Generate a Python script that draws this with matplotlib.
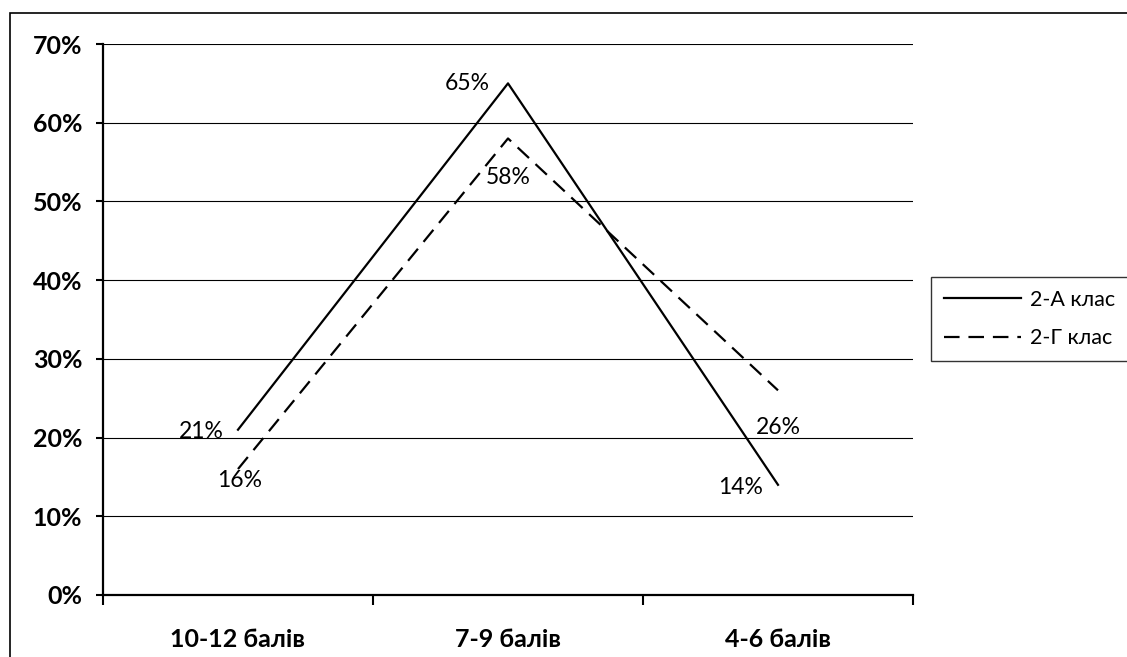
import matplotlib.pyplot as plt
from matplotlib.patches import Rectangle

plt.rcParams['font.family'] = ['Lato', 'DejaVu Sans']

# categories and percentages for each class
categories = ['10-12 балів', '7-9 балів', '4-6 балів']
class_a = [21, 65, 14]
class_g = [16, 58, 26]
series_names = ['2-А клас', '2-Г клас']

fig = plt.figure(figsize=(11.27, 6.57), dpi=100)
ax = fig.add_axes([103 / 1127, 1 - 595 / 657, 810 / 1127, 551 / 657])

x = range(len(categories))
ax.plot(x, class_a, color='black', lw=1.6, label=series_names[0])
ax.plot(x, class_g, color='black', lw=1.6, linestyle=(0, (7, 4)), label=series_names[1])

# value labels: solid line to the left, dashed line below (offsets in points)
a_offsets = [(-10, -1), (-13, 0), (-11, -2)]
g_offsets = [(1, -8), (0, -28), (0, -27)]
for i, v in enumerate(class_a):
    ax.annotate(f'{v}%', (i, v), xytext=a_offsets[i], textcoords='offset points',
                ha='right', va='center', fontsize=16.5)
for i, v in enumerate(class_g):
    ax.annotate(f'{v}%', (i, v), xytext=g_offsets[i], textcoords='offset points',
                ha='center', va='center', fontsize=16.5)

ax.set_xlim(-0.5, 2.5)
ax.set_ylim(0, 70)
ax.set_yticks(range(0, 71, 10))
ax.set_yticklabels([f'{t}%' for t in range(0, 71, 10)], fontsize=18, fontweight='bold')
ax.set_xticks([-0.5, 0.5, 1.5, 2.5])
ax.set_xticklabels([])
ax.set_xticks(list(x), minor=True)
ax.set_xticklabels(categories, minor=True, fontsize=18, fontweight='bold')
ax.tick_params(axis='x', which='minor', length=0, pad=24)
ax.tick_params(axis='x', which='major', length=7, width=1.5, direction='out')
ax.tick_params(axis='y', length=5, width=1.5, direction='out', pad=10)

ax.grid(axis='y', color='black', lw=0.8)
ax.set_axisbelow(True)
for side in ['top', 'right']:
    ax.spines[side].set_visible(False)
for side in ['left', 'bottom']:
    ax.spines[side].set_linewidth(1.6)

leg = fig.legend(loc='upper left', bbox_to_anchor=(931 / 1127, 1 - 277 / 657),
                 frameon=True, fancybox=False, edgecolor='black', fontsize=15.5,
                 handlelength=3.6, handletextpad=0.4, borderpad=0.6,
                 borderaxespad=0, labelspacing=0.85)
leg.get_frame().set_linewidth(1.0)

# outer chart border
fig.add_artist(Rectangle((10 / 1127, -0.05), 1.1, 1 - 13 / 657 + 0.05,
                         transform=fig.transFigure, fill=False,
                         edgecolor='black', lw=1.2))

fig.savefig('out.png', dpi=100)
